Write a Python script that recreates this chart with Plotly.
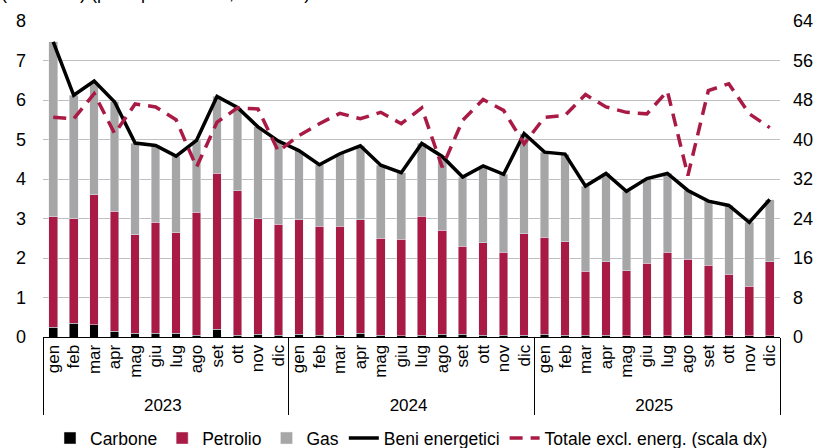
import plotly.graph_objects as go

# months and years for the multicategory x axis
months = ["gen", "feb", "mar", "apr", "mag", "giu", "lug", "ago", "set", "ott", "nov", "dic"]
years = ["2023", "2024", "2025"]

carbone = [0.25, 0.35, 0.31, 0.15, 0.10, 0.10, 0.10, 0.05, 0.20, 0.05, 0.07, 0.05,
           0.07, 0.05, 0.05, 0.10, 0.05, 0.03, 0.05, 0.07, 0.07, 0.05, 0.05, 0.05,
           0.07, 0.05, 0.05, 0.05, 0.03, 0.03, 0.03, 0.05, 0.03, 0.03, 0.03, 0.03]
petrolio = [2.79, 2.65, 3.29, 3.04, 2.49, 2.81, 2.54, 3.11, 3.95, 3.65, 2.93, 2.81,
            2.90, 2.76, 2.76, 2.87, 2.45, 2.44, 3.01, 2.63, 2.23, 2.33, 2.09, 2.56,
            2.45, 2.36, 1.61, 1.85, 1.65, 1.84, 2.12, 1.92, 1.79, 1.56, 1.26, 1.87]
gas = [4.43, 3.12, 2.84, 2.76, 2.32, 1.94, 1.94, 1.82, 1.94, 2.11, 2.32, 2.10,
       1.75, 1.55, 1.83, 1.87, 1.85, 1.69, 1.84, 1.87, 1.75, 1.95, 1.98, 2.54,
       2.16, 2.22, 2.16, 2.24, 2.01, 2.14, 1.99, 1.74, 1.62, 1.74, 1.61, 1.58]
beni_energetici = [7.47, 6.12, 6.48, 5.95, 4.91, 4.85, 4.58, 4.98, 6.09, 5.81, 5.32, 4.96,
                   4.72, 4.36, 4.64, 4.84, 4.35, 4.16, 4.90, 4.57, 4.05, 4.33, 4.12, 5.15,
                   4.68, 4.63, 3.82, 4.14, 3.69, 4.01, 4.14, 3.71, 3.44, 3.33, 2.90, 3.48]
totale_excl = [44.5, 44.2, 49.3, 41.2, 47.2, 46.6, 44.0, 34.4, 43.5, 46.4, 46.2, 37.6,
               40.8, 43.2, 45.3, 44.2, 45.5, 43.2, 46.4, 34.4, 43.9, 48.1, 45.9, 39.1,
               44.5, 44.9, 49.1, 46.6, 45.5, 45.2, 49.8, 32.7, 49.9, 51.3, 45.2, 42.4]

x = [[y for y in years for m in months], [m for y in years for m in months]]

font = "Liberation Sans, Arial, sans-serif"
crimson = "#a91a45"

fig = go.Figure()
fig.add_trace(go.Bar(x=x, y=carbone, name="Carbone", marker_color="black"))
fig.add_trace(go.Bar(x=x, y=petrolio, name="Petrolio", marker_color=crimson))
fig.add_trace(go.Bar(x=x, y=gas, name="Gas", marker_color="#a6a6a6"))
fig.add_trace(go.Scatter(x=x, y=beni_energetici, name="Beni energetici", mode="lines",
                         line=dict(color="black", width=3.5)))
fig.add_trace(go.Scatter(x=x, y=totale_excl, name="Totale excl. energ. (scala dx)", mode="lines",
                         line=dict(color=crimson, width=3.5, dash="13px,8px"), yaxis="y2"))

# title line, cut off by the top edge as in the source picture
fig.add_annotation(text="(contributi) (punti percentuali, scala sx)", xref="paper", yref="paper",
                   x=-0.06, y=1.05, xanchor="left", yanchor="bottom", showarrow=False,
                   font=dict(size=18, color="black"))

fig.update_layout(
    width=822, height=448,
    margin=dict(l=43, r=42, t=21, b=111, autoexpand=False),
    paper_bgcolor="white", plot_bgcolor="white",
    font=dict(family=font, size=18, color="black"),
    barmode="stack", bargap=0.58,
    showlegend=True,
    legend=dict(orientation="h", x=0.5, xanchor="center", yref="container", y=0.022,
                yanchor="middle", traceorder="normal", font=dict(size=17.5), itemwidth=30),
    xaxis=dict(type="multicategory", tickangle=-90, ticks="", showline=True, linecolor="black",
               linewidth=1, showdividers=True, dividercolor="black", dividerwidth=1,
               tickfont=dict(size=17), automargin=False),
    yaxis=dict(range=[0, 8], dtick=1, showgrid=True, gridcolor="#bfbfbf", gridwidth=1,
               zeroline=False, showline=False, ticks="", tickfont=dict(size=18),
               ticklabelstandoff=16, automargin=False),
    yaxis2=dict(range=[0, 64], dtick=8, overlaying="y", side="right", showgrid=False,
                zeroline=False, showline=False, ticks="", tickfont=dict(size=18),
                ticklabelstandoff=12, automargin=False),
)

fig.write_html("out.html", config={"displayModeBar": False},
               post_script="document.body.style.margin = '0px';")
